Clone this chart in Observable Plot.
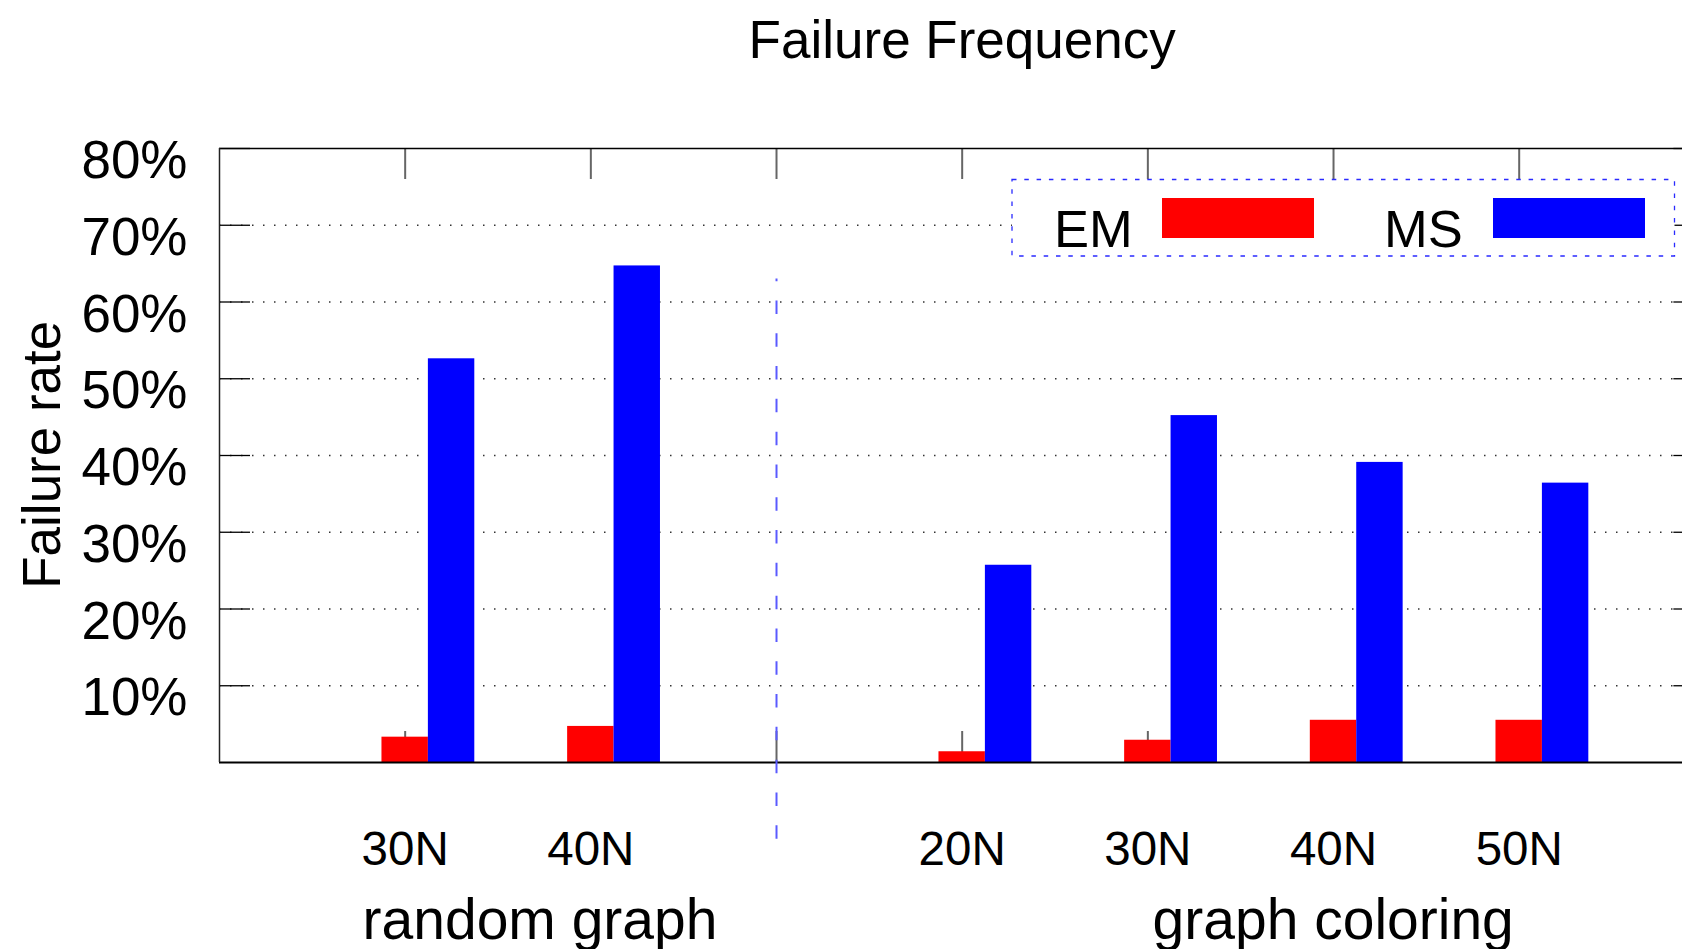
<!DOCTYPE html>
<html>
<head>
<meta charset="utf-8">
<script src="https://cdn.jsdelivr.net/npm/d3@7"></script>
<script src="https://cdn.jsdelivr.net/npm/@observablehq/plot@0.6"></script>
<style>
  html, body { margin: 0; padding: 0; background: #fff; overflow: hidden; }
  #wrap { position: relative; width: 1682px; height: 949px; overflow: hidden; }
  #wrap svg { position: absolute; left: 0; top: 0; }
</style>
</head>
<body>
<div id="wrap"></div>
<script>
// ---- data ----
const chartTitle = "Failure Frequency";
const yAxisTitle = "Failure rate";
const groupNames = ["random graph", "graph coloring"];
const groupCategories = [["30N", "40N"], ["20N", "30N", "40N", "50N"]];
const seriesNames = ["EM", "MS"];
const seriesColors = ["#ff0000", "#0000ff"];
const emRates = [3.3, 4.7, 1.4, 2.9, 5.5, 5.5];
const msRates = [52.6, 64.7, 25.7, 45.2, 39.1, 36.4];
const yTicks = [10, 20, 30, 40, 50, 60, 70, 80];
const separatorSpan = [-10, 63];

// ---- layout ----
const W = 1682, H = 949;
const mLeft = 219, mTop = 148, mBottom = 187;
const slotPx = 185.67;
const xMax = (W - mLeft) / slotPx;
const frameRight = 8;
const barW = 0.25;
const tickLen = 31;
const font = "'Liberation Sans', Arial, Helvetica, sans-serif";

// slots: one empty slot, group 1, separator slot, group 2
const rows = [];
let slot = 1;
const separatorSlots = [];
const groupSlots = [];
groupCategories.forEach((cats, g) => {
  const s = [];
  cats.forEach(c => { s.push(slot); slot++; });
  groupSlots.push(s);
  if (g < groupCategories.length - 1) { separatorSlots.push(slot); slot++; }
});
let k = 0;
groupCategories.forEach((cats, g) => {
  cats.forEach((c, i) => {
    rows.push({group: groupNames[g], cat: c, slot: groupSlots[g][i], em: emRates[k], ms: msRates[k]});
    k++;
  });
});
const bars = rows.flatMap(r => [
  {slot: r.slot, series: "EM", value: r.em, x1: r.slot - barW / 2, x2: r.slot + barW / 2},
  {slot: r.slot, series: "MS", value: r.ms, x1: r.slot + barW / 2, x2: r.slot + barW * 1.5}
]);
const allTickSlots = [...rows.map(r => r.slot), ...separatorSlots].sort((a, b) => a - b);
const tickUnits = tickLen / slotPx;
const yUnitPx = (H - mTop - mBottom) / 80;
const gridTicks = yTicks.filter(t => t < 80);

const groupLabels = groupNames.map((g, i) => ({name: g, x: d3.mean(groupSlots[i])}));

const chart = Plot.plot({
  width: W,
  height: H,
  marginLeft: mLeft,
  marginRight: 0,
  marginTop: mTop,
  marginBottom: mBottom,
  style: {fontFamily: font, background: "transparent", color: "#000"},
  x: {type: "linear", domain: [0, xMax], axis: null},
  y: {domain: [0, 80], axis: null},
  marks: [
    // dotted grid
    Plot.ruleY(gridTicks, {x1: 0, x2: frameRight, stroke: "#333", strokeWidth: 1.3, strokeDasharray: "1.5,9.5"}),
    // y ticks left & right
    Plot.ruleY(yTicks, {x1: 0, x2: tickUnits, stroke: "#000", strokeWidth: 1.3}),
    Plot.ruleY(yTicks, {x1: frameRight - tickUnits, x2: frameRight, stroke: "#000", strokeWidth: 1.3}),
    // x ticks top & bottom
    Plot.ruleX(allTickSlots, {y1: 80, y2: 80 - tickLen / yUnitPx, stroke: "#666", strokeWidth: 2}),
    Plot.ruleX(allTickSlots, {y1: 0, y2: tickLen / yUnitPx, stroke: "#666", strokeWidth: 2}),
    // bars
    Plot.rectY(bars, {x1: "x1", x2: "x2", y1: 0, y2: "value", fill: d => seriesColors[seriesNames.indexOf(d.series)]}),
    // frame
    Plot.ruleY([80], {x1: 0, x2: frameRight, stroke: "#000", strokeWidth: 1.5}),
    Plot.ruleY([0], {x1: 0, x2: frameRight, stroke: "#000", strokeWidth: 2}),
    Plot.ruleX([0], {y1: 0, y2: 80, stroke: "#222", strokeWidth: 1.5}),
    // separator
    Plot.ruleX(separatorSlots, {y1: separatorSpan[0], y2: separatorSpan[1], stroke: "#5a5aff", strokeWidth: 2, strokeDasharray: "13.5,19.3"}),
    // y tick labels
    Plot.text(yTicks, {y: d => d, text: d => d + "%", frameAnchor: "left", textAnchor: "end", lineAnchor: "bottom", dx: -32, dy: 29.5, fontSize: 53, fill: "#000"}),
    // x tick labels
    Plot.text(rows, {x: "slot", y: 0, text: "cat", lineAnchor: "bottom", dy: 102, fontSize: 47.5, fill: "#000"}),
    // group labels
    Plot.text([groupLabels[0]], {x: "x", y: 0, text: "name", lineAnchor: "bottom", dy: 176, dx: 42, fontSize: 57, fill: "#000"}),
    Plot.text([groupLabels[1]], {x: "x", y: 0, text: "name", lineAnchor: "bottom", dy: 176, dx: 92.5, fontSize: 57, fill: "#000"}),
    // y axis title
    Plot.text([yAxisTitle], {y: 40.1, text: d => d, frameAnchor: "left", textAnchor: "middle", rotate: -90, lineAnchor: "bottom", dx: -160, fontSize: 53, fill: "#000"}),
    // title
    Plot.text([chartTitle], {x: frameRight / 2, text: d => d, frameAnchor: "top", lineAnchor: "bottom", dy: -91, fontSize: 53, fill: "#000"})
  ]
});
document.getElementById("wrap").appendChild(chart);

// ---- legend ----
const leg = d3.select("#wrap").append("svg")
  .attr("width", W).attr("height", H)
  .style("font-family", font);
leg.append("rect")
  .attr("x", 1012).attr("y", 179.5).attr("width", 662.5).attr("height", 76.5)
  .attr("fill", "#fff").attr("stroke", "#2a2aff").attr("stroke-width", 1.3)
  .attr("stroke-dasharray", "4.5,7.8");
const legItems = [
  {name: seriesNames[0], color: seriesColors[0], tx: 1054, sx: 1162},
  {name: seriesNames[1], color: seriesColors[1], tx: 1384, sx: 1493}
];
legItems.forEach(it => {
  leg.append("text").attr("x", it.tx).attr("y", 247).attr("font-size", 52.5).attr("fill", "#000").text(it.name);
  leg.append("rect").attr("x", it.sx).attr("y", 198).attr("width", 152).attr("height", 40).attr("fill", it.color);
});
</script>
</body>
</html>
